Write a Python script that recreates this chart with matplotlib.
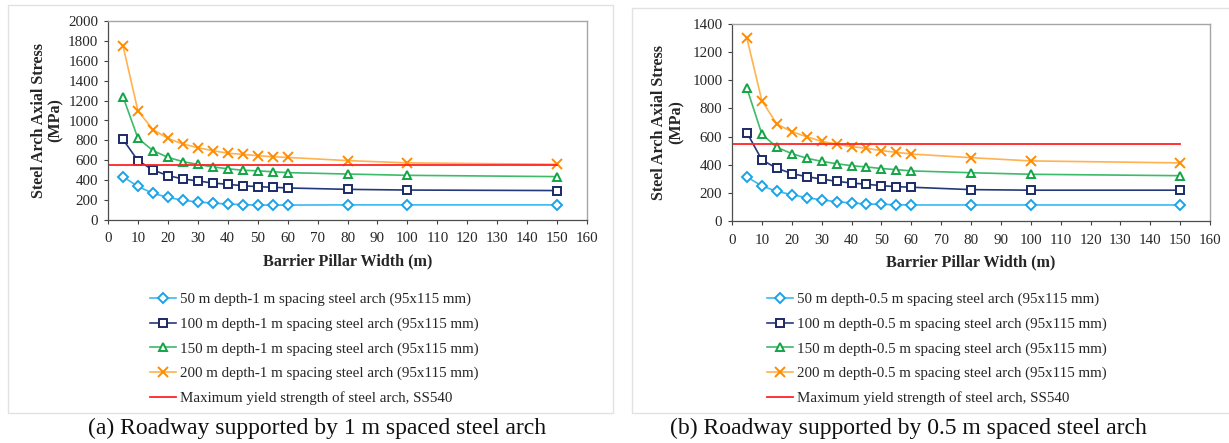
import matplotlib
matplotlib.use("Agg")
import matplotlib.pyplot as plt
from matplotlib.patches import Rectangle

plt.rcParams["font.family"] = ["Liberation Serif", "DejaVu Serif"]

# barrier pillar width (m)
width = [5, 10, 15, 20, 25, 30, 35, 40, 45, 50, 55, 60, 80, 100, 150]

# (a) 1 m spacing steel arch, axial stress (MPa)
a_50 = [435, 337, 268, 228, 198, 181, 170, 160, 155, 150, 150, 150, 152, 152, 152]
a_100 = [810, 597, 503, 446, 413, 392, 372, 358, 345, 335, 329, 322, 308, 301, 296]
a_150 = [1240, 821, 698, 630, 587, 558, 534, 515, 500, 494, 485, 476, 462, 449, 436]
a_200 = [1752, 1097, 909, 820, 764, 727, 697, 671, 660, 646, 636, 629, 597, 574, 560]

# (b) 0.5 m spacing steel arch, axial stress (MPa)
b_50 = [313, 249, 211, 187, 166, 150, 137, 128, 121, 118, 116, 114, 114, 114, 114]
b_100 = [628, 434, 375, 337, 315, 298, 282, 270, 261, 251, 244, 240, 223, 219, 219]
b_150 = [943, 617, 524, 479, 446, 424, 407, 393, 384, 373, 365, 356, 343, 332, 322]
b_200 = [1298, 855, 689, 635, 599, 566, 547, 528, 517, 500, 488, 476, 450, 427, 413]

# yield strength of SS540
yield_x = [0, 150]
yield_y = [550, 550]

depths = [50, 100, 150, 200]

STYLES = [
    dict(color="#3BB9F2", mec="#1AA3E8", marker="D", ms=4.6),
    dict(color="#24397A", mec="#1B2A66", marker="s", ms=6.2),
    dict(color="#3CBB68", mec="#13A545", marker="^", ms=6.0),
    dict(color="#FFB24F", mec="#FF8C00", marker="x", ms=7.0),
]


def draw_panel(ax, series, spacing, ymax, ystep):
    handles = []
    for depth, ys, st in zip(depths, series, STYLES):
        (h,) = ax.plot(
            width, ys,
            color=st["color"], lw=1.2,
            marker=st["marker"], ms=st["ms"],
            mec=st["mec"], mfc="white", mew=1.4,
            label=f"{depth} m depth-{spacing} m spacing steel arch (95x115 mm)",
        )
        handles.append(h)
    (h,) = ax.plot(yield_x, yield_y, color="#FF2424", lw=1.3,
                   label="Maximum yield strength of steel arch, SS540")
    handles.append(h)

    ax.set_xlim(0, 160)
    ax.set_ylim(0, ymax)
    ax.set_xticks(range(0, 161, 10))
    ax.set_yticks(range(0, ymax + 1, ystep))
    ax.tick_params(direction="out", length=3, width=0.8, labelsize=10.8,
                   colors="#404040", labelcolor="#262626", pad=4)
    ax.tick_params(axis="x", pad=6)
    for side in ("top", "right"):
        ax.spines[side].set_color("#A6A6A6")
        ax.spines[side].set_linewidth(1.0)
    for side in ("left", "bottom"):
        ax.spines[side].set_color("#4D4D4D")
        ax.spines[side].set_linewidth(0.9)
    ax.set_xlabel("Barrier Pillar Width (m)", fontsize=11.6, fontweight="bold",
                  color="#262626", labelpad=6)
    ax.set_ylabel("Steel Arch Axial Stress\n(MPa)", fontsize=11.6,
                  fontweight="bold", color="#262626", linespacing=1.1)
    return handles


fig = plt.figure(figsize=(12.29, 4.43), dpi=100)
W, H = 1229, 443


def fx(px):
    return px / W


def fy(py):
    return 1 - py / H


# light panel frames
fig.patches.append(Rectangle((fx(8), fy(413)), fx(605), 408 / H, transform=fig.transFigure,
                             fill=False, edgecolor="#E2E2E2", lw=1.0))
fig.patches.append(Rectangle((fx(632), fy(413)), fx(600), 405 / H, transform=fig.transFigure,
                             fill=False, edgecolor="#E2E2E2", lw=1.0))

ax1 = fig.add_axes([fx(108), fy(220), fx(587 - 108), 199 / H])
ax2 = fig.add_axes([fx(732), fy(221), fx(1210 - 732), 197 / H])

h1 = draw_panel(ax1, [a_50, a_100, a_150, a_200], "1", 2000, 200)
h2 = draw_panel(ax2, [b_50, b_100, b_150, b_200], "0.5", 1400, 200)
ax1.yaxis.set_label_coords(-0.092, 0.5)
ax2.yaxis.set_label_coords(-0.10, 0.5)

for ax, handles, x0 in ((ax1, h1, 150), (ax2, h2, 767)):
    fig.legend(handles=handles, loc="upper left",
               bbox_to_anchor=(fx(x0), fy(292.5)), frameon=False,
               fontsize=10.8, handlelength=1.7, handletextpad=0.3,
               labelspacing=0.74, borderpad=0, borderaxespad=0,
               labelcolor="#262626")

fig.text(fx(317), fy(428), "(a) Roadway supported by 1 m spaced steel arch",
         ha="center", va="center", fontsize=17, color="#111111")
fig.text(fx(908), fy(428), "(b) Roadway supported by 0.5 m spaced steel arch",
         ha="center", va="center", fontsize=17, color="#111111")

fig.savefig("out.png", dpi=100)
